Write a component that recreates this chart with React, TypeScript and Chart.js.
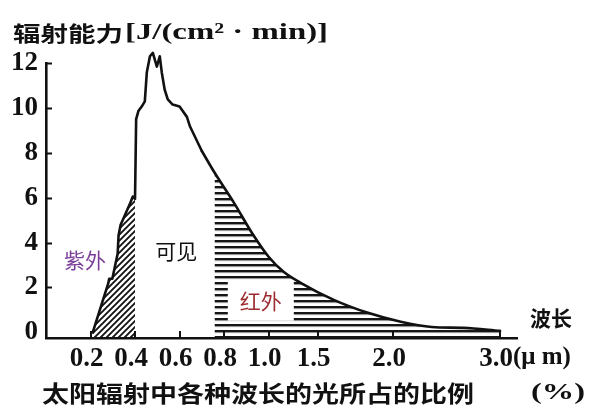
import React, { useEffect, useRef } from 'react';
import { Chart, registerables } from 'chart.js';

Chart.register(...registerables);

// ---- data ----
const wavelengths = [
  0.21, 0.28, 0.284, 0.298, 0.322, 0.326, 0.335, 0.378, 0.39, 0.40,
  0.405, 0.415, 0.43, 0.444, 0.453, 0.467, 0.48, 0.498, 0.511, 0.52,
  0.533, 0.547, 0.569, 0.60, 0.633, 0.647, 0.70, 0.757, 0.844, 0.924,
  1.0, 1.153, 1.327, 1.607, 1.833, 2.07, 2.36, 2.66, 3.0,
];
const radiation = [
  0, 2.19, 2.39, 2.39, 3.51, 4.32, 4.78, 5.75, 6.05, 5.95,
  9.5, 9.86, 10.06, 10.29, 11.59, 12.3, 12.45, 11.84, 12.3, 11.59,
  10.82, 10.38, 10.15, 10.06, 9.6, 9.17, 8.08, 7.12, 5.78, 4.45,
  3.37, 2.7, 2.21, 1.45, 0.87, 0.47, 0.24, 0.2, 0.07,
];
const uvRange = [0.2, 0.4];
const irRange = [0.757, 3.0];
const smoothFrom = 0.7; // the long infrared tail is drawn as a smooth curve

const tickWavelengths = [0.2, 0.4, 0.6, 0.8, 1.0, 1.5, 2.0, 3.0];
const tickLabels = ['0.2', '0.4', '0.6', '0.8', '1.0', '1.5', '2.0', '3.0'];
// where each tick sits along the hand-drawn (non-linear) wavelength axis, in axis units
const tickAxisPositions = [1, 2, 3, 4, 5, 6.1, 7.8, 10.2];
const xAxisMax = 10.58;
const yTicks = [0, 2, 4, 6, 8, 10, 12];
const yMin = -0.25;
const yMax = 12;

const regionNames = ['紫外', '可见', '红外'];
const regionColors = ['#7a3e98', '#111111', '#9c2b30'];
const regionAnchors: [number, number][] = [[0.175, 3.24], [0.585, 3.64], [0.965, 1.41]];

const yTitle = '辐射能力';
const yUnit = '[J/(cm² · min)]';
const xTitle = '太阳辐射中各种波长的光所占的比例';
const xTitleUnit = '(%)';
const xAxisName = '波长';
const xUnit = '(μ m)';

// piecewise mapping wavelength -> axis units
const anchorsW = [0, ...tickWavelengths];
const anchorsU = [0, ...tickAxisPositions];
function toAxis(w: number): number {
  for (let i = 0; i < anchorsW.length - 1; i++) {
    if (w <= anchorsW[i + 1] || i === anchorsW.length - 2) {
      const t = (w - anchorsW[i]) / (anchorsW[i + 1] - anchorsW[i]);
      return anchorsU[i] + t * (anchorsU[i + 1] - anchorsU[i]);
    }
  }
  return 0;
}

const points = wavelengths.map((w, i) => ({ x: toAxis(w), y: radiation[i] }));
const inRange = (r: number[]) =>
  wavelengths
    .map((w, i) => ({ w, p: points[i] }))
    .filter((o) => o.w >= r[0] - 1e-9 && o.w <= r[1] + 1e-9)
    .map((o) => o.p);

const SERIF = '"Liberation Serif", "DejaVu Serif", serif';
const CJK = '"Noto Sans CJK SC", "Noto Sans", sans-serif';
const TICK_SIZE = 27;

function makeDiag(): CanvasPattern | string {
  const c = document.createElement('canvas');
  const s = 6;
  c.width = s;
  c.height = s;
  const g = c.getContext('2d');
  if (!g) return '#555';
  g.strokeStyle = '#141414';
  g.lineWidth = 1.9;
  g.beginPath();
  g.moveTo(0, s); g.lineTo(s, 0);
  g.moveTo(-s / 2, s / 2); g.lineTo(s / 2, -s / 2);
  g.moveTo(s / 2, s * 1.5); g.lineTo(s * 1.5, s / 2);
  g.stroke();
  return g.createPattern(c, 'repeat') || '#555';
}

function makeHoriz(): CanvasPattern | string {
  const c = document.createElement('canvas');
  c.width = 6;
  c.height = 6;
  const g = c.getContext('2d');
  if (!g) return '#555';
  g.fillStyle = '#161616';
  g.fillRect(0, 0, 6, 2.4);
  g.fillStyle = 'rgba(0,0,0,0.12)';
  g.fillRect(0, 2.4, 6, 1);
  return g.createPattern(c, 'repeat') || '#555';
}

function fitText(ctx: CanvasRenderingContext2D, text: string, x: number, y: number, width: number, font: string, color: string) {
  ctx.save();
  ctx.font = font;
  ctx.fillStyle = color;
  ctx.textAlign = 'left';
  ctx.textBaseline = 'middle';
  const w = ctx.measureText(text).width;
  ctx.translate(x, y);
  ctx.scale(width / w, 1);
  ctx.fillText(text, 0, 0);
  ctx.restore();
}

const extras = {
  id: 'extras',
  afterDraw(chart: any) {
    const { ctx, chartArea, scales } = chart;
    const xs = scales.x;
    const ys = scales.y;
    ctx.save();
    // inward tick marks
    ctx.strokeStyle = '#111';
    ctx.lineWidth = 2;
    ctx.beginPath();
    yTicks.slice(1).forEach((v) => {
      const py = Math.round(ys.getPixelForValue(v)) + 0.5;
      ctx.moveTo(chartArea.left, py);
      ctx.lineTo(chartArea.left + 6, py);
    });
    tickAxisPositions.forEach((u) => {
      const px = Math.round(xs.getPixelForValue(u));
      ctx.moveTo(px, chartArea.bottom);
      ctx.lineTo(px, chartArea.bottom - 7);
    });
    ctx.stroke();

    // region labels
    regionNames.forEach((name, i) => {
      const [w, v] = regionAnchors[i];
      const px = xs.getPixelForValue(toAxis(w));
      const py = ys.getPixelForValue(v);
      ctx.font = `21px ${CJK}`;
      ctx.textAlign = 'center';
      ctx.textBaseline = 'middle';
      if (i === 2) {
        const tw = ctx.measureText(name).width;
        ctx.fillStyle = '#fff';
        ctx.fillRect(px - tw / 2 - 12, py - 20, tw + 24, 40);
      }
      ctx.fillStyle = regionColors[i];
      ctx.fillText(name, px, py);
    });

    // unit after last tick label
    const lastX = xs.getPixelForValue(tickAxisPositions[tickAxisPositions.length - 1]) - 4;
    ctx.font = `bold ${TICK_SIZE}px ${SERIF}`;
    const lw = ctx.measureText(tickLabels[tickLabels.length - 1]).width;
    ctx.fillStyle = '#111';
    ctx.textAlign = 'left';
    ctx.textBaseline = 'middle';
    ctx.font = `bold 25px ${SERIF}`;
    ctx.fillText(xUnit, lastX + lw / 2, chartArea.bottom + 20);

    // axis name at the end of the x axis
    ctx.font = `bold 21px ${CJK}`;
    ctx.textAlign = 'left';
    ctx.fillText(xAxisName, chartArea.right + 13, chartArea.bottom - 20);
    ctx.restore();

    // titles
    fitText(ctx, yTitle, 13, 33, 110, `bold 21px ${CJK}`, '#111');
    fitText(ctx, yUnit, 125, 33, 203, `bold 23px ${SERIF}`, '#111');
    fitText(ctx, xTitle, 42, 393, 432, `bold 23px ${CJK}`, '#111');
    fitText(ctx, xTitleUnit, 531, 393, 54, `bold 23px ${SERIF}`, '#111');
  },
};

export default function App() {
  const ref = useRef<HTMLCanvasElement | null>(null);
  useEffect(() => {
    if (!ref.current) return;
    const uvPattern = makeDiag();
    const irPattern = makeHoriz();
    const lineStyle = {
      borderColor: '#111',
      borderWidth: 2.6,
      borderJoinStyle: 'round',
      borderCapStyle: 'round',
      pointRadius: 0,
      fill: false,
      clip: false,
    };
    const chart = new Chart(ref.current, {
      type: 'line',
      data: {
        datasets: [
          {
            ...lineStyle,
            data: inRange([0, smoothFrom]),
            tension: 0,
          } as any,
          {
            ...lineStyle,
            data: inRange([smoothFrom, 3.0]),
            cubicInterpolationMode: 'monotone',
          } as any,
          {
            data: inRange(uvRange),
            borderWidth: 0,
            pointRadius: 0,
            fill: 'start',
            tension: 0,
            backgroundColor: uvPattern as any,
          } as any,
          {
            data: inRange(irRange),
            borderWidth: 0,
            pointRadius: 0,
            fill: 'start',
            backgroundColor: irPattern as any,
            cubicInterpolationMode: 'monotone',
          } as any,
        ],
      },
      options: {
        responsive: false,
        animation: false,
        events: [],
        layout: { padding: { top: 63, right: 83, left: 0, bottom: 0 } },
        plugins: { legend: { display: false }, tooltip: { enabled: false }, title: { display: false } },
        scales: {
          x: {
            type: 'linear',
            min: 0,
            max: xAxisMax,
            grid: { display: false, drawTicks: false },
            border: { display: true, color: '#111', width: 2.6 },
            afterBuildTicks: (s: any) => {
              s.ticks = tickAxisPositions.map((v) => ({ value: v }));
            },
            afterFit: (s: any) => {
              s.height = 76;
            },
            ticks: {
              autoSkip: false,
              maxRotation: 0,
              padding: 5,
              labelOffset: -4,
              color: '#111',
              font: { family: SERIF, size: TICK_SIZE, weight: 'bold' },
              callback: (_v: any, i: number) => tickLabels[i],
            },
          },
          y: {
            type: 'linear',
            min: yMin,
            max: yMax,
            grid: { display: false, drawTicks: false },
            border: { display: true, color: '#111', width: 2.6 },
            afterBuildTicks: (s: any) => {
              s.ticks = yTicks.map((v) => ({ value: v }));
            },
            afterFit: (s: any) => {
              s.width = 46;
            },
            ticks: {
              padding: 8,
              color: '#111',
              font: { family: SERIF, size: TICK_SIZE, weight: 'bold' },
              callback: (v: any) => String(v),
            },
          },
        },
      },
      plugins: [extras],
    } as any);
    return () => chart.destroy();
  }, []);
  return (
    <div style={{ position: 'fixed', left: 0, top: 0, width: 600, height: 414, background: '#fff' }}>
      <canvas ref={ref} width={600} height={414} style={{ width: 600, height: 414, display: 'block' }} />
    </div>
  );
}
